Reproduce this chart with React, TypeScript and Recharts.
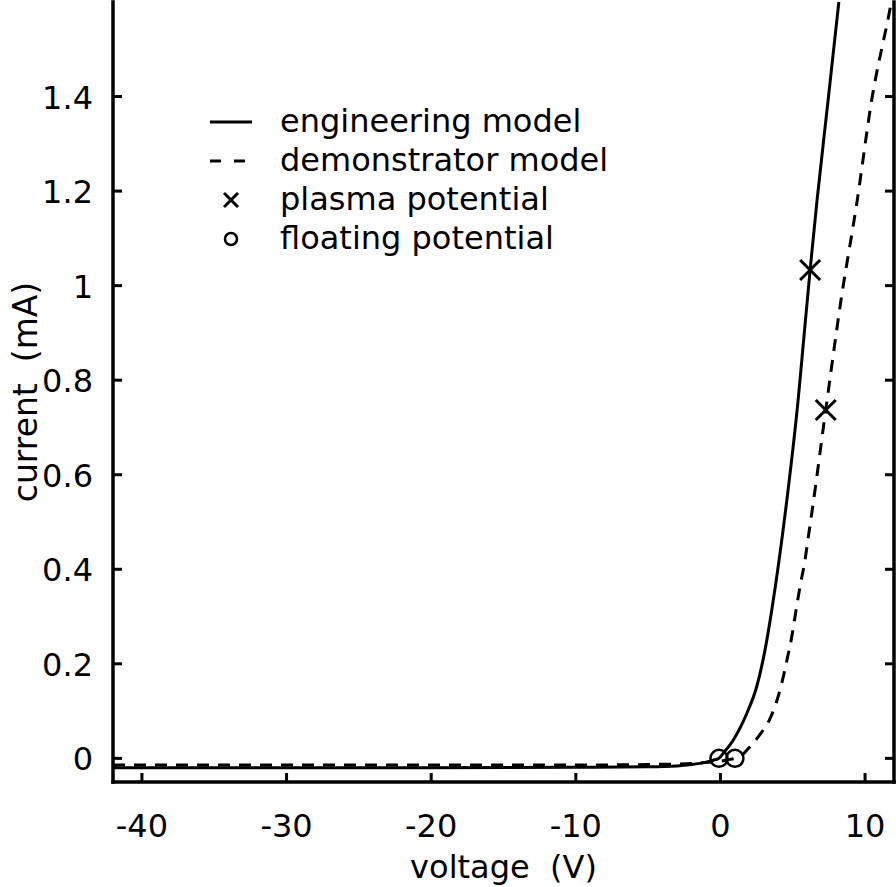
import { ComposedChart, Legend, Line, Scatter, XAxis, YAxis } from 'recharts'

// I-V sweep of the probe
const engVoltage = [-42, -30, -20, -10, -5, -3, -2, -1, -0.5, -0.1, 0.2, 0.89, 1.82, 2.51, 3.08, 3.55, 4.59, 5.37, 5.69, 6.2, 6.68, 7.4, 8.2, 8.6]
const engCurrent = [-0.02, -0.02, -0.02, -0.019, -0.018, -0.016, -0.013, -0.008, -0.004, 0, 0.011, 0.039, 0.095, 0.152, 0.229, 0.314, 0.546, 0.758, 0.864, 1.033, 1.181, 1.38, 1.604, 1.715]

const demoVoltage = [-42, -30, -20, -10, -5, -3, -2, -1, 0, 0.5, 1.0, 1.36, 2.05, 2.79, 3.38, 3.85, 4.24, 4.59, 4.93, 5.23, 5.5, 5.85, 6.08, 6.35, 7.28, 8.34, 9.43, 10.46, 11.73, 12]
const demoCurrent = [-0.014, -0.014, -0.014, -0.014, -0.013, -0.012, -0.011, -0.009, -0.006, -0.003, 0, 0.004, 0.025, 0.053, 0.081, 0.117, 0.159, 0.207, 0.257, 0.314, 0.363, 0.42, 0.469, 0.526, 0.737, 0.97, 1.175, 1.393, 1.586, 1.63]

const plasmaVoltage = [6.2, 7.28]
const plasmaCurrent = [1.033, 0.737]
const floatingVoltage = [-0.1, 1.0]
const floatingCurrent = [0, 0]

const xTicks = [-40, -30, -20, -10, 0, 10]
const yTicks = [0, 0.2, 0.4, 0.6, 0.8, 1, 1.2, 1.4]
const legendLabels = ['engineering model', 'demonstrator model', 'plasma potential', 'floating potential']

const engData = engVoltage.map((v, k) => ({ v, i: engCurrent[k] }))
const demoData = demoVoltage.map((v, k) => ({ v, i: demoCurrent[k] }))
const plasmaData = plasmaVoltage.map((v, k) => ({ v, i: plasmaCurrent[k] }))
const floatingData = floatingVoltage.map((v, k) => ({ v, i: floatingCurrent[k] }))

const FONT = '"DejaVu Sans", sans-serif'
const TICK = 9

function BottomTick({ x, y, payload }: any) {
  return (
    <g>
      <line x1={x} y1={y} x2={x} y2={y - TICK} stroke="#000" strokeWidth={3} />
      <text x={x} y={y + 55} textAnchor="middle" fontSize={32} fontFamily={FONT} fill="#000">{payload.value}</text>
    </g>
  )
}

function TopTick({ x, y }: any) {
  return <line x1={x} y1={y} x2={x} y2={y + TICK} stroke="#000" strokeWidth={3} />
}

function LeftTick({ x, y, payload }: any) {
  return (
    <g>
      <line x1={x} y1={y} x2={x + TICK} y2={y} stroke="#000" strokeWidth={3} />
      <text x={x - 20} y={y + 12} textAnchor="end" fontSize={32} fontFamily={FONT} fill="#000">{payload.value}</text>
    </g>
  )
}

function RightTick({ x, y }: any) {
  return <line x1={x} y1={y} x2={x - TICK} y2={y} stroke="#000" strokeWidth={3} />
}

function Cross({ cx, cy, arm = 10 }: any) {
  return (
    <g stroke="#000" strokeWidth={3}>
      <line x1={cx - arm} y1={cy - arm} x2={cx + arm} y2={cy + arm} />
      <line x1={cx - arm} y1={cy + arm} x2={cx + arm} y2={cy - arm} />
    </g>
  )
}

function Ring({ cx, cy, rad = 8.5 }: any) {
  return <circle cx={cx} cy={cy} r={rad} fill="none" stroke="#000" strokeWidth={2.5} />
}

function KeyBox() {
  const rows = [122, 161, 200, 239]
  return (
    <svg width={620} height={270} style={{ display: 'block' }}>
      <line x1={210} y1={rows[0]} x2={252} y2={rows[0]} stroke="#000" strokeWidth={3} />
      <line x1={210} y1={rows[1]} x2={252} y2={rows[1]} stroke="#000" strokeWidth={3} strokeDasharray="11 13" />
      <Cross cx={231} cy={rows[2]} arm={7} />
      <Ring cx={231} cy={rows[3]} rad={6} />
      {legendLabels.map((t, k) => (
        <text key={t} x={280} y={rows[k] + 10} fontSize={32} fontFamily={FONT} fill="#000">{t}</text>
      ))}
    </svg>
  )
}

export default function App() {
  const axisStroke = { stroke: '#000', strokeWidth: 3.5, strokeLinecap: 'square' as const }
  return (
    <div style={{ position: 'absolute', left: 0, top: 0, background: '#fff' }}>
      <ComposedChart width={896} height={887} margin={{ top: 2, right: 0, bottom: 0, left: 0 }}>
        <XAxis
          xAxisId="bottom"
          type="number"
          dataKey="v"
          domain={[-42, 12]}
          allowDataOverflow
          ticks={xTicks}
          tickSize={0}
          tickMargin={0}
          tickLine={false}
          height={105}
          axisLine={axisStroke}
          tick={<BottomTick />}
          label={(p: any) => {
            const vb = p.viewBox
            return (
              <text x={vb.x + vb.width / 2} y={vb.y + 96} textAnchor="middle" fontSize={32} fontFamily={FONT} fill="#000">
                {'voltage\u00A0 (V)'}
              </text>
            )
          }}
        />
        <XAxis
          xAxisId="top"
          orientation="top"
          type="number"
          dataKey="v"
          domain={[-42, 12]}
          allowDataOverflow
          ticks={xTicks}
          tickSize={0}
          tickMargin={0}
          tickLine={false}
          height={0}
          axisLine={axisStroke}
          tick={<TopTick />}
        />
        <YAxis
          yAxisId="left"
          type="number"
          dataKey="i"
          domain={[-0.05, 1.6]}
          allowDataOverflow
          ticks={yTicks}
          tickSize={0}
          tickMargin={0}
          tickLine={false}
          width={113}
          axisLine={axisStroke}
          tick={<LeftTick />}
          label={(p: any) => {
            const vb = p.viewBox
            const cy = vb.y + vb.height / 2
            return (
              <text x={37} y={cy} transform={`rotate(-90, 37, ${cy})`} textAnchor="middle" fontSize={33} fontFamily={FONT} fill="#000">
                {'current\u00A0 (mA)'}
              </text>
            )
          }}
        />
        <YAxis
          yAxisId="right"
          orientation="right"
          type="number"
          domain={[-0.05, 1.6]}
          allowDataOverflow
          ticks={yTicks}
          tickSize={0}
          tickMargin={0}
          tickLine={false}
          width={2}
          axisLine={axisStroke}
          tick={<RightTick />}
        />
        <Legend layout="vertical" align="center" verticalAlign="middle" content={<KeyBox />} wrapperStyle={{ left: 0, top: 0, width: 620, height: 270 }} />
        <Line
          xAxisId="bottom"
          yAxisId="left"
          data={engData}
          dataKey="i"
          type="monotone"
          stroke="#000"
          strokeWidth={3}
          dot={false}
          activeDot={false}
          isAnimationActive={false}
        />
        <Line
          xAxisId="bottom"
          yAxisId="left"
          data={demoData}
          dataKey="i"
          type="monotone"
          stroke="#000"
          strokeWidth={3}
          strokeDasharray="12 9"
          dot={false}
          activeDot={false}
          isAnimationActive={false}
        />
        <Scatter xAxisId="bottom" yAxisId="left" data={plasmaData} dataKey="i" shape={<Cross />} isAnimationActive={false} />
        <Scatter xAxisId="bottom" yAxisId="left" data={floatingData} dataKey="i" shape={<Ring />} isAnimationActive={false} />
      </ComposedChart>
    </div>
  )
}
